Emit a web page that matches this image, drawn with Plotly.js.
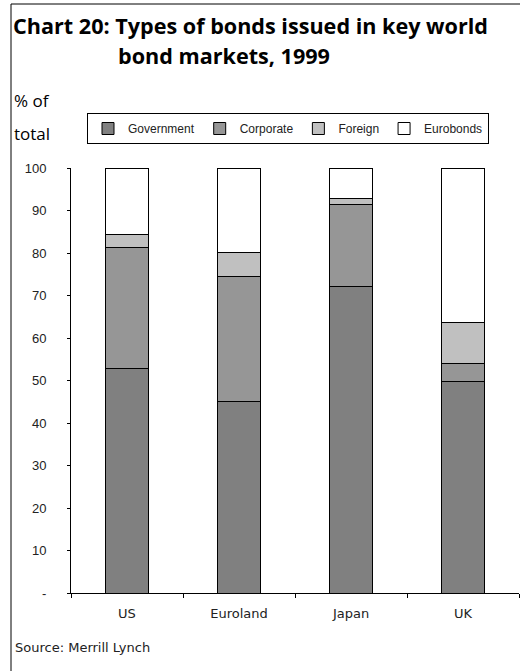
<!DOCTYPE html>
<html>
<head>
<meta charset="utf-8">
<script src="https://cdn.plot.ly/plotly-3.0.1.min.js"></script>
<style>html,body{margin:0;padding:0;background:#fff;}#chart{width:520px;height:671px;}</style>
</head>
<body>
<div id="chart"></div>
<script>
// Data (% of total, 1999)
const markets = ["US", "Euroland", "Japan", "UK"];
const government = [52.9, 45.0, 72.2, 49.7];
const corporate = [28.5, 29.5, 19.2, 4.2];
const foreign = [3.0, 5.7, 1.4, 9.8];
const eurobonds = [15.6, 19.8, 7.2, 36.3];
const yTickVals = [0, 10, 20, 30, 40, 50, 60, 70, 80, 90, 100];
const yTickText = ["-", "10", "20", "30", "40", "50", "60", "70", "80", "90", "100"];

const seriesNames = ["Government", "Corporate", "Foreign", "Eurobonds"];
const seriesValues = [government, corporate, foreign, eurobonds];
const seriesColors = ["#808080", "#969696", "#c0c0c0", "#ffffff"];

const traces = seriesNames.map((n, i) => ({
  type: "bar",
  name: n,
  x: markets,
  y: seriesValues[i],
  marker: {color: seriesColors[i], line: {color: "#000", width: 1}},
  width: 0.39,
  hoverinfo: "skip"
}));

// px -> paper helpers (plot area: x 71..519, y 168..593)
const L = 71, R = 1, T = 168, B = 78, W = 520, H = 671;
const pw = W - L - R, ph = H - T - B;
const px = v => (v - L) / pw;
const py = v => (H - B - v) / ph;

const titleFont = {family: "Open Sans, Lato, sans-serif", size: 21.6, color: "#000"};
const unitFont = {family: "Open Sans, Lato, sans-serif", size: 17, color: "#000"};

const layout = {
  width: W, height: H,
  margin: {l: L, r: R, t: T, b: B, pad: 0},
  paper_bgcolor: "#fff", plot_bgcolor: "#fff",
  barmode: "stack",
  showlegend: true,
  font: {family: "Liberation Sans, Arial, sans-serif", size: 13, color: "#222"},
  legend: {
    orientation: "h",
    x: px(87), xanchor: "left",
    y: py(113), yanchor: "top",
    bordercolor: "#000", borderwidth: 1,
    font: {family: "Liberation Sans, Arial, sans-serif", size: 12, color: "#222"},
    itemwidth: 30,
    traceorder: "normal",
    itemclick: false, itemdoubleclick: false
  },
  xaxis: {
    type: "category",
    showline: true, linecolor: "#000", linewidth: 1,
    ticks: "outside", ticklen: 4, tickcolor: "#000",
    tickson: "boundaries",
    showgrid: false, zeroline: false,
    ticklabelstandoff: 8,
    tickfont: {family: "DejaVu Sans, sans-serif", size: 13, color: "#222"},
    fixedrange: true
  },
  yaxis: {
    range: [0, 100],
    tickvals: yTickVals, ticktext: yTickText,
    showline: true, linecolor: "#000", linewidth: 1,
    ticks: "outside", ticklen: 3, tickcolor: "#000",
    showgrid: false, zeroline: false,
    ticklabelstandoff: 18,
    tickfont: {size: 13, color: "#222"},
    fixedrange: true
  },
  annotations: [
    {text: "<b>Chart 20: Types of bonds issued in key world</b>", xref: "paper", yref: "paper",
     x: px(11), y: py(25), xanchor: "left", yanchor: "middle", showarrow: false, font: titleFont},
    {text: "<b>bond markets, 1999</b>", xref: "paper", yref: "paper",
     x: px(116), y: py(55), xanchor: "left", yanchor: "middle", showarrow: false, font: titleFont},
    {text: "% of", xref: "paper", yref: "paper",
     x: px(12), y: py(101), xanchor: "left", yanchor: "middle", showarrow: false, font: unitFont},
    {text: "total", xref: "paper", yref: "paper",
     x: px(12), y: py(133), xanchor: "left", yanchor: "middle", showarrow: false, font: unitFont},
    {text: "Source: Merrill Lynch", xref: "paper", yref: "paper",
     x: px(13), y: py(647), xanchor: "left", yanchor: "middle", showarrow: false,
     font: {family: "DejaVu Sans, sans-serif", size: 13, color: "#222"}}
  ],
  shapes: [
    {type: "line", xref: "paper", yref: "paper", x0: px(11), x1: px(11), y0: py(4), y1: py(700),
     line: {color: "#000", width: 1}},
    {type: "line", xref: "paper", yref: "paper", x0: px(11), x1: px(540), y0: py(4), y1: py(4),
     line: {color: "#000", width: 1}}
  ]
};

Plotly.newPlot("chart", traces, layout, {displayModeBar: false, staticPlot: true});
</script>
</body>
</html>
